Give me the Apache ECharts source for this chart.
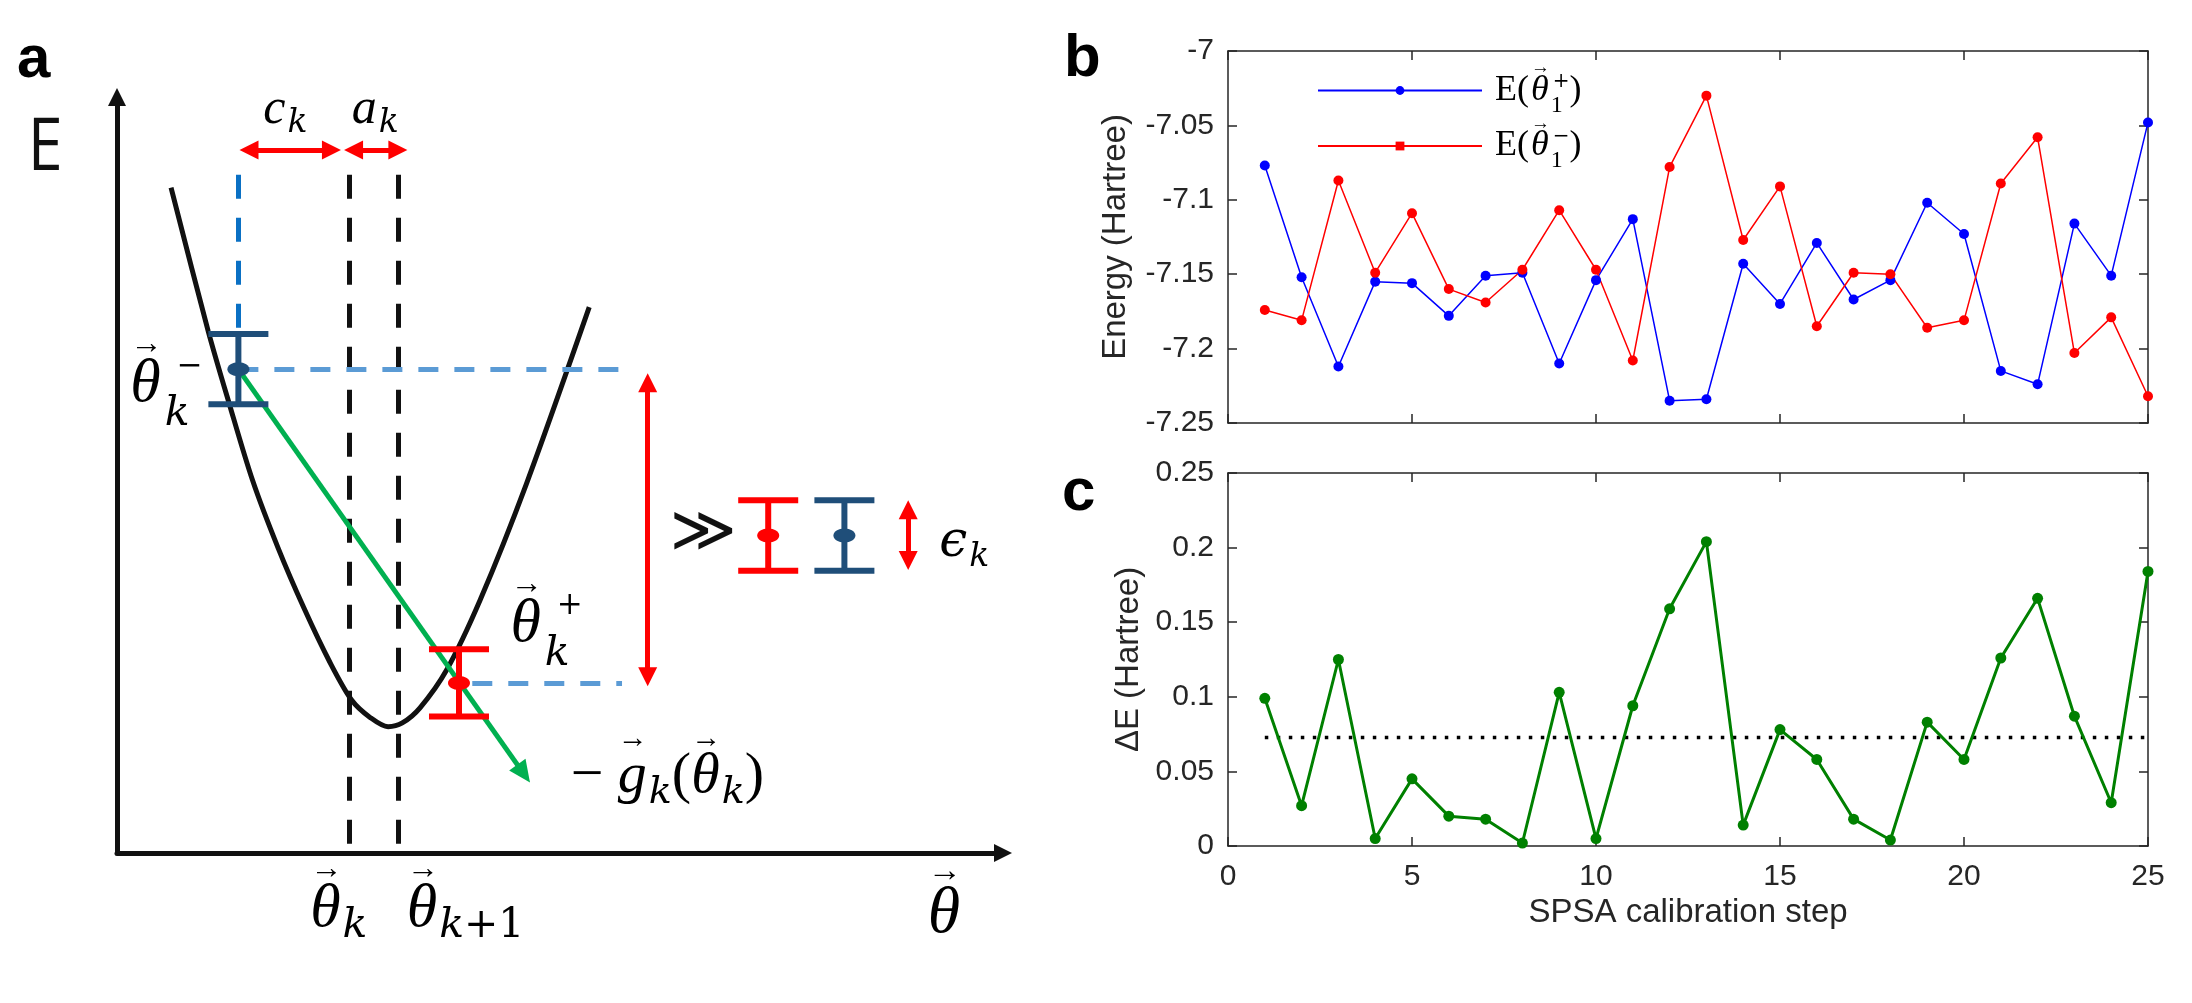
<!DOCTYPE html>
<html>
<head>
<meta charset="utf-8">
<script src="https://cdn.jsdelivr.net/npm/echarts@6/dist/echarts.min.js"></script>
<style>
html, body { margin: 0; padding: 0; background: #fff; }
#main { width: 2192px; height: 1003px; }
</style>
</head>
<body>
<div id="main"></div>
<script>
const chart = echarts.init(document.getElementById('main'), null, { renderer: 'canvas' });

// ---- panels b and c : SPSA calibration ----
const steps = [1, 2, 3, 4, 5, 6, 7, 8, 9, 10, 11, 12, 13, 14, 15, 16, 17, 18, 19, 20, 21, 22, 23, 24, 25];
const ePlus = [-7.077, -7.152, -7.212, -7.155, -7.156, -7.178, -7.151, -7.149, -7.210, -7.154, -7.113, -7.235, -7.234,
               -7.143, -7.170, -7.129, -7.167, -7.154, -7.102, -7.123, -7.215, -7.224, -7.116, -7.151, -7.048];
const eMinus = [-7.174, -7.181, -7.087, -7.149, -7.109, -7.160, -7.169, -7.147, -7.107, -7.147, -7.208, -7.078, -7.030,
                -7.127, -7.091, -7.185, -7.149, -7.150, -7.186, -7.181, -7.089, -7.058, -7.203, -7.179, -7.232];
const deltaE = [0.099, 0.027, 0.125, 0.005, 0.045, 0.020, 0.018, 0.002, 0.103, 0.005, 0.094, 0.159, 0.204,
                0.014, 0.078, 0.058, 0.018, 0.004, 0.083, 0.058, 0.126, 0.166, 0.087, 0.029, 0.184];
const deltaMean = 0.0728;
const stepTicks = [0, 5, 10, 15, 20, 25];
const energyTicks = [-7.25, -7.2, -7.15, -7.1, -7.05, -7];
const deltaTicks = [0, 0.05, 0.1, 0.15, 0.2, 0.25];

// ---- panel a : schematic, theta / E in arbitrary units 0..10 ----
const curveTheta = [0.61, 1.03, 1.26, 1.53, 1.82, 2.11, 2.40, 2.65, 2.86, 3.06, 3.22, 3.42, 3.72, 4.10, 4.62, 5.33];
const curveE = [8.80, 6.90, 5.97, 4.93, 4.03, 3.24, 2.53, 2.02, 1.79, 1.67, 1.72, 1.92, 2.42, 3.35, 4.88, 7.22];
const thetaK = 2.62, thetaK1 = 3.18, guideTop = 8.97;
const thetaMinus = 1.37, eMinusMid = 6.40, eMinusHalf = 0.465;
const thetaPlus = 3.86, ePlusMid = 2.25, ePlusHalf = 0.445;
const guideEnd = 5.70;
const gapArrowX = 5.99, gapArrowY = [6.22, 2.33];
const stepArrowY = 9.30, cArrow = [1.49, 2.42], aArrow = [2.67, 3.17];
const keyRedX = 7.35, keyBlueX = 8.21, keyMid = 4.20, keyHalf = 0.465;
const epsArrowX = 8.93, epsArrowY = [4.54, 3.87];
const gradTip = [4.59, 1.05];

const ink = '#111';
const axisGrey = '#262626';
const serif = 'Liberation Serif';
const wideSerif = 'DejaVu Serif';

function mathRich(s) {
  const base = { fontFamily: serif, color: ink, verticalAlign: 'middle' };
  const r = Math.round;
  const sub = r(s * 0.66);
  return {
    th: Object.assign({}, base, { fontStyle: 'italic', fontSize: s }),
    rm: Object.assign({}, base, { fontSize: s }),
    ar: Object.assign({}, base, { fontSize: r(s * 0.52), width: 0, padding: [0, 0, r(s * 1.3), 0] }),
    sb: Object.assign({}, base, { fontFamily: wideSerif, fontStyle: 'italic', fontSize: sub, padding: [r(s * 0.55), 0, 0, 2] }),
    sbr: Object.assign({}, base, { fontFamily: wideSerif, fontSize: sub, padding: [r(s * 0.55), 0, 0, 0] }),
    sbz: Object.assign({}, base, { fontFamily: wideSerif, fontStyle: 'italic', fontSize: sub, width: 0, padding: [r(s * 0.95), 0, 0, 4] }),
    sp: Object.assign({}, base, { fontFamily: wideSerif, fontSize: r(s * 0.5), padding: [0, 0, r(s * 0.6), r(s * 0.2)] })
  };
}

// text notes of the schematic: [theta, E, rich text, base size]
const notes = [
  [1.65, 9.83, '{th|c}{sb|k}', 50],
  [2.65, 9.83, '{th|a}{sb|k}', 50],
  [0.15, 6.19, '{ar|→}{th|θ}{sbz|k}{sp|−}', 62],
  [4.44, 3.02, '{ar|→}{th|θ}{sbz|k}{sp|+}', 62],
  [5.12, 1.01, '{rm|− }{ar|→}{th|g}{sb|k}{rm|(}{ar|→}{th|θ}{sb|k}{rm|)}', 58],
  [2.18, -0.75, '{ar|→}{th|θ}{sb|k}', 62],
  [3.27, -0.75, '{ar|→}{th|θ}{sb|k}{sbr|+1}', 62],
  [9.15, -0.82, '{ar|→}{th|θ}', 66],
  [9.28, 4.10, '{ep|ϵ}{sb|k}', 50]
];

function guide(segs, color, width, dash, symbols, size, z) {
  return {
    type: 'line', xAxisIndex: 0, yAxisIndex: 0, data: [], silent: true, z: z,
    markLine: {
      silent: true, animation: false, precision: 4,
      symbol: symbols, symbolSize: size,
      label: { show: false },
      emphasis: { disabled: true },
      lineStyle: { color: color, width: width, type: dash, cap: 'butt', opacity: 1 },
      data: segs.map(s => [{ coord: [s[0], s[1]] }, { coord: [s[2], s[3]] }])
    }
  };
}

function errorBars(bars, color) {
  return {
    type: 'custom', xAxisIndex: 0, yAxisIndex: 0, z: 5, silent: true,
    data: bars,
    renderItem: function (params, api) {
      const x = api.value(0);
      const top = api.coord([x, api.value(1) + api.value(2)]);
      const bot = api.coord([x, api.value(1) - api.value(2)]);
      const mid = api.coord([x, api.value(1)]);
      const st = { stroke: color, lineWidth: 6, fill: null };
      return {
        type: 'group', children: [
          { type: 'line', shape: { x1: top[0], y1: top[1], x2: bot[0], y2: bot[1] }, style: st },
          { type: 'line', shape: { x1: top[0] - 30, y1: top[1], x2: top[0] + 30, y2: top[1] }, style: st },
          { type: 'line', shape: { x1: bot[0] - 30, y1: bot[1], x2: bot[0] + 30, y2: bot[1] }, style: st },
          { type: 'ellipse', shape: { cx: mid[0], cy: mid[1], rx: 11, ry: 7 }, style: { fill: color } }
        ]
      };
    }
  };
}

const boxAxis = (extra) => Object.assign({
  type: 'value', min: stepTicks[0], max: stepTicks[stepTicks.length - 1], interval: 5,
  axisLine: { show: true, onZero: false, lineStyle: { color: axisGrey, width: 1.5 } },
  axisTick: { show: true, inside: true, length: 9, lineStyle: { color: axisGrey, width: 1.5 } },
  axisLabel: { show: false },
  splitLine: { show: false }
}, extra);

const tickFont = { fontFamily: 'Liberation Sans', fontSize: 30, color: axisGrey };
const nameFont = { fontFamily: 'Liberation Sans', fontSize: 33, color: axisGrey };

const legendRich = {
  g: { width: 8 },
  e: { fontFamily: serif, fontSize: 36, color: '#000', verticalAlign: 'middle' },
  th: { fontFamily: serif, fontStyle: 'italic', fontSize: 36, color: '#000', verticalAlign: 'middle' },
  ar: { fontFamily: serif, fontSize: 19, color: '#000', width: 0, padding: [0, 0, 44, 2], verticalAlign: 'middle' },
  sbz: { fontFamily: serif, fontSize: 24, color: '#000', width: 0, padding: [30, 0, 0, 2], verticalAlign: 'middle' },
  sp: { fontFamily: 'DejaVu Serif', fontSize: 20, color: '#000', padding: [0, 0, 18, 2], verticalAlign: 'middle' }
};

const option = {
  animation: false,
  backgroundColor: '#fff',
  grid: [
    { left: 117, top: 97, width: 886, height: 756 },
    { left: 1228, top: 51, width: 920, height: 372 },
    { left: 1228, top: 473, width: 920, height: 373 }
  ],
  xAxis: [
    {
      gridIndex: 0, type: 'value', min: 0, max: 10,
      axisLine: { show: true, symbol: ['none', 'triangle'], symbolSize: [18, 18], lineStyle: { color: ink, width: 5 } },
      axisTick: { show: false }, axisLabel: { show: false }, splitLine: { show: false }
    },
    boxAxis({ gridIndex: 1 }),
    boxAxis({ gridIndex: 1, position: 'top' }),
    boxAxis({
      gridIndex: 2,
      axisLabel: Object.assign({ show: true, margin: 16 }, tickFont),
      name: 'SPSA calibration step', nameLocation: 'middle', nameGap: 50, nameTextStyle: nameFont
    }),
    boxAxis({ gridIndex: 2, position: 'top' })
  ],
  yAxis: [
    {
      gridIndex: 0, type: 'value', min: 0, max: 10,
      axisLine: { show: true, symbol: ['none', 'triangle'], symbolSize: [18, 18], lineStyle: { color: ink, width: 5 } },
      axisTick: { show: false }, axisLabel: { show: false }, splitLine: { show: false }
    },
    boxAxis({
      gridIndex: 1, min: energyTicks[0], max: energyTicks[energyTicks.length - 1], interval: 0.05,
      axisLabel: Object.assign({ show: true, margin: 14 }, tickFont),
      name: 'Energy (Hartree)', nameLocation: 'middle', nameGap: 96, nameTextStyle: nameFont
    }),
    boxAxis({ gridIndex: 1, position: 'right', min: energyTicks[0], max: energyTicks[energyTicks.length - 1], interval: 0.05 }),
    boxAxis({
      gridIndex: 2, min: deltaTicks[0], max: deltaTicks[deltaTicks.length - 1], interval: 0.05,
      axisLabel: Object.assign({ show: true, margin: 14 }, tickFont),
      name: 'ΔE (Hartree)', nameLocation: 'middle', nameGap: 83, nameTextStyle: nameFont
    }),
    boxAxis({ gridIndex: 2, position: 'right', min: deltaTicks[0], max: deltaTicks[deltaTicks.length - 1], interval: 0.05 })
  ],
  legend: {
    data: ['plus', 'minus'],
    orient: 'vertical', left: 1317, top: 59, padding: 0,
    itemWidth: 164, itemHeight: 11, itemGap: -3,
    selectedMode: false,
    lineStyle: { width: 2 },
    formatter: function (name) {
      return name === 'plus'
        ? '{g| }{e|E(}{ar|→}{th|θ}{sbz|1}{sp|+}{e|)}'
        : '{g| }{e|E(}{ar|→}{th|θ}{sbz|1}{sp|−}{e|)}';
    },
    textStyle: { rich: legendRich }
  },
  series: [
    // schematic
    guide([[thetaK, guideTop, thetaK, 0], [thetaK1, guideTop, thetaK1, 0]], ink, 5, [24, 19], 'none', 0, 1),
    guide([[thetaMinus, guideTop, thetaMinus, eMinusMid]], '#0a70c4', 5, [24, 19], 'none', 0, 1),
    guide([[thetaMinus, eMinusMid, guideEnd, eMinusMid], [thetaPlus + 0.15, ePlusMid, guideEnd, ePlusMid]],
      '#5b9bd5', 5, [20, 16], 'none', 0, 1),
    {
      type: 'line', xAxisIndex: 0, yAxisIndex: 0, z: 3, silent: true,
      data: curveTheta.map((t, i) => [t, curveE[i]]),
      smooth: 0.3, symbol: 'none',
      lineStyle: { color: ink, width: 5 }
    },
    errorBars([[thetaMinus, eMinusMid, eMinusHalf], [keyBlueX, keyMid, keyHalf]], '#1f4e79'),
    errorBars([[thetaPlus, ePlusMid, ePlusHalf], [keyRedX, keyMid, keyHalf]], '#ff0000'),
    guide([[thetaMinus, eMinusMid, gradTip[0], gradTip[1]]], '#00b050', 5, 'solid', ['none', 'triangle'], [20, 22], 6),
    guide([[cArrow[0], stepArrowY, cArrow[1], stepArrowY], [aArrow[0], stepArrowY, aArrow[1], stepArrowY],
           [gapArrowX, gapArrowY[0], gapArrowX, gapArrowY[1]], [epsArrowX, epsArrowY[0], epsArrowX, epsArrowY[1]]],
      '#ff0000', 5, 'solid', ['triangle', 'triangle'], [19, 19], 6),

    // panel b
    {
      name: 'plus', type: 'line', xAxisIndex: 1, yAxisIndex: 1,
      data: steps.map((s, i) => [s, ePlus[i]]),
      symbol: 'circle', symbolSize: 10,
      itemStyle: { color: '#0000ff' }, lineStyle: { color: '#0000ff', width: 1.5 }
    },
    {
      name: 'minus', type: 'line', xAxisIndex: 1, yAxisIndex: 1,
      symbol: 'rect',
      data: steps.map((s, i) => ({ value: [s, eMinus[i]], symbol: 'circle' })),
      symbolSize: 10,
      itemStyle: { color: '#ff0000' }, lineStyle: { color: '#ff0000', width: 1.5 }
    },

    // panel c
    {
      type: 'line', xAxisIndex: 3, yAxisIndex: 3, silent: true,
      data: [[steps[0], deltaMean], [steps[steps.length - 1], deltaMean]],
      symbol: 'none', lineStyle: { color: '#000', width: 3.5, type: [3.5, 8.5] }
    },
    {
      type: 'line', xAxisIndex: 3, yAxisIndex: 3,
      data: steps.map((s, i) => [s, deltaE[i]]),
      symbol: 'circle', symbolSize: 11,
      itemStyle: { color: '#008000' }, lineStyle: { color: '#008000', width: 3 }
    }
  ]
};

chart.setOption(option);

// annotations of the schematic, placed through panel a's axes
const graphics = notes.map(n => {
  const p = chart.convertToPixel({ gridIndex: 0 }, [n[0], n[1]]);
  const r = mathRich(n[3]);
  r.ep = { fontFamily: 'DejaVu Serif', fontStyle: 'italic', fontSize: n[3], color: ink, verticalAlign: 'middle' };
  return { type: 'text', x: p[0], y: p[1], z: 10, silent: true,
    style: { text: n[2], rich: r, align: 'left', verticalAlign: 'middle' } };
});
const eLabel = chart.convertToPixel({ gridIndex: 0 }, [-0.81, 9.31]);
graphics.push({ type: 'text', x: eLabel[0], y: eLabel[1], scaleX: 0.85, z: 10, silent: true,
  style: { text: 'E', fontFamily: 'Open Sans', fontSize: 74, fill: ink, align: 'center', verticalAlign: 'middle' } });
const muchGreater = chart.convertToPixel({ gridIndex: 0 }, [6.24, 4.21]);
graphics.push({ type: 'text', x: muchGreater[0], y: muchGreater[1], z: 10, silent: true,
  style: { text: '≫', fontFamily: 'DejaVu Sans', fontSize: 64, fill: ink, align: 'left', verticalAlign: 'middle' } });
[['a', 17, 60], ['b', 1064, 59], ['c', 1062, 493]].forEach(l => {
  graphics.push({ type: 'text', x: l[1], y: l[2], z: 10, silent: true,
    style: { text: l[0], fontFamily: 'Liberation Sans', fontWeight: 'bold', fontSize: 60, fill: '#000',
      align: 'left', verticalAlign: 'middle' } });
});
chart.setOption({ graphic: graphics });
</script>
</body>
</html>
